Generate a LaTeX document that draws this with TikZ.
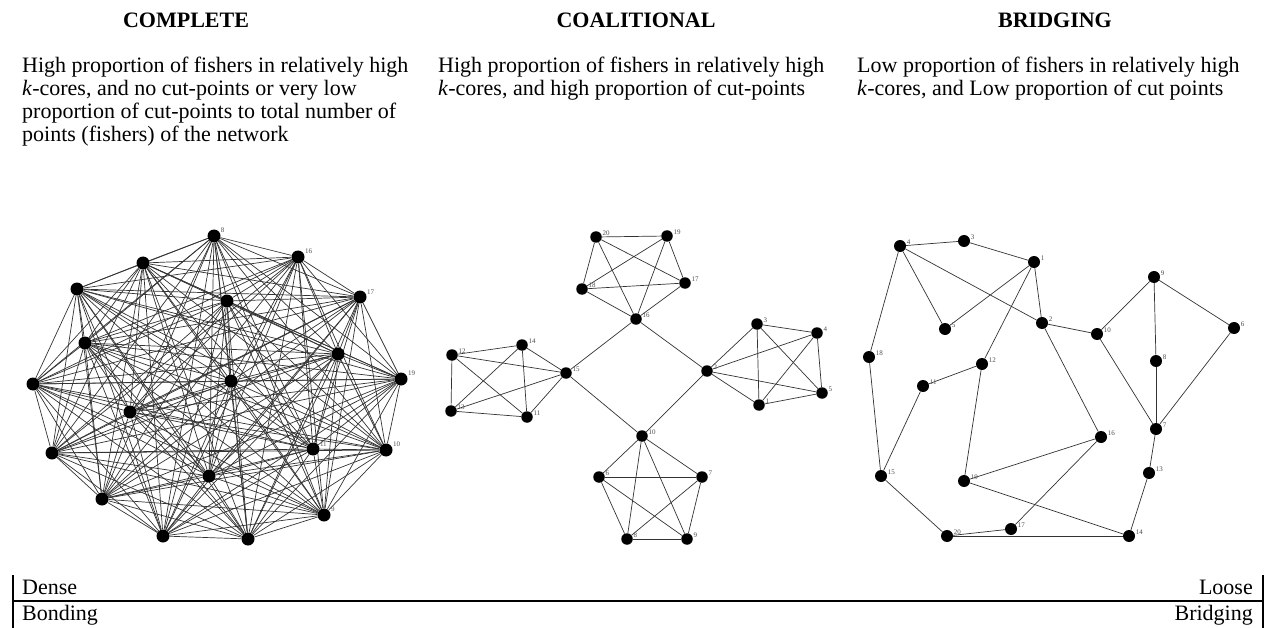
\documentclass[tikz,border=0pt]{standalone}
\usepackage{fontspec}
\setmainfont{Liberation Serif}
\usetikzlibrary{backgrounds}
\begin{document}
\begin{tikzpicture}[x=1pt,y=-1pt,
  cn/.style={circle,fill=black,inner sep=0pt,minimum size=13pt},
  kn/.style={circle,fill=black,inner sep=0pt,minimum size=11.5pt},
  bn/.style={circle,fill=black,inner sep=0pt,minimum size=12pt},
  lb/.style={font=\fontsize{7}{8}\selectfont,text=black!70,inner sep=0.5pt},
  cedge/.style={draw=black!80,line width=0.7pt},
  kedge/.style={draw=black!80,line width=0.7pt},
  title/.style={font=\fontsize{22}{24}\selectfont\bfseries,anchor=base},
  body/.style={font=\fontsize{22}{24}\selectfont,anchor=base west,inner sep=0pt},
  bar/.style={line width=2.6pt},
  hbar/.style={line width=2pt}]
\useasboundingbox (0,0) rectangle (1268,628);

% titles
\node[title] (t1) at (186,28) {COMPLETE};
\node[title] (t2) at (636,28) {COALITIONAL};
\node[title] (t3) at (1055,28) {BRIDGING};

% descriptions
\node[body] (d11) at (22,73) {High proportion of fishers in relatively high};
\node[body] (d12) at (22,96) {\textit{k}-cores, and no cut-points or very low};
\node[body] (d13) at (22,119) {proportion of cut-points to total number of};
\node[body] (d14) at (22,142) {points (fishers) of the network};
\node[body] (d21) at (438,73) {High proportion of fishers in relatively high};
\node[body] (d22) at (438,96) {\textit{k}-cores, and high proportion of cut-points};
\node[body] (d31) at (857,73) {Low proportion of fishers in relatively high};
\node[body] (d32) at (857,96) {\textit{k}-cores, and Low proportion of cut points};

% ---------- complete network ----------
\node[cn,label={[lb]20:8}] (c1) at (214,236) {};
\node[cn,label={[lb]20:16}] (c2) at (298,257) {};
\node[cn] (c3) at (143,263) {};
\node[cn,label={[lb]20:17}] (c4) at (360,297) {};
\node[cn] (c5) at (77,289) {};
\node[cn] (c6) at (227,301) {};
\node[cn] (c7) at (85,343) {};
\node[cn] (c8) at (338,354) {};
\node[cn,label={[lb]20:19}] (c9) at (401,379) {};
\node[cn] (c10) at (33,384) {};
\node[cn] (c11) at (231,381) {};
\node[cn] (c12) at (130,412) {};
\node[cn,label={[lb]20:10}] (c13) at (386,450) {};
\node[cn,label={[lb]20:11}] (c14) at (313,449) {};
\node[cn] (c15) at (52,453) {};
\node[cn] (c16) at (209,476) {};
\node[cn] (c17) at (102,499) {};
\node[cn,label={[lb]20:9}] (c18) at (324,515) {};
\node[cn] (c19) at (163,536) {};
\node[cn] (c20) at (248,539) {};
\begin{pgfonlayer}{background}
\foreach \i in {1,...,19}{
  \foreach \j in {2,...,20}{
    \ifnum\j>\i \draw[cedge] (c\i) -- (c\j); \fi
  }
}
\end{pgfonlayer}

% ---------- coalitional network ----------
\node[kn,label={[lb]10:20}] (k20) at (596,237) {};
\node[kn,label={[lb]10:19}] (k19) at (667,236) {};
\node[kn,label={[lb]10:17}] (k17) at (685,283) {};
\node[kn,label={[lb]10:18}] (k18) at (582,289) {};
\node[kn,label={[lb]10:16}] (k16) at (636,319) {};
\node[kn,label={[lb]10:3}] (k3) at (757,324) {};
\node[kn,label={[lb]10:4}] (k4) at (817,333) {};
\node[kn,label={[lb]10:2}] (k2) at (707,371) {};
\node[kn,label={[lb]10:5}] (k5) at (822,393) {};
\node[kn,label={[lb]10:1}] (k1) at (759,405) {};
\node[kn,label={[lb]10:12}] (k12) at (452,355) {};
\node[kn,label={[lb]10:14}] (k14) at (522,345) {};
\node[kn,label={[lb]10:15}] (k15) at (566,373) {};
\node[kn,label={[lb]10:13}] (k13) at (451,411) {};
\node[kn,label={[lb]10:11}] (k11) at (527,417) {};
\node[kn,label={[lb]10:10}] (k10) at (642,436) {};
\node[kn,label={[lb]10:6}] (k6) at (599,477) {};
\node[kn,label={[lb]10:7}] (k7) at (702,477) {};
\node[kn,label={[lb]10:8}] (k8) at (627,539) {};
\node[kn,label={[lb]10:9}] (k9) at (687,539) {};
\begin{pgfonlayer}{background}
\foreach \g in {{20,19,17,18,16},{3,4,2,5,1},{12,14,15,13,11},{10,6,7,8,9}}{
  \foreach [count=\ii] \a in \g {
    \foreach [count=\jj] \b in \g {
      \ifnum\jj>\ii \draw[kedge] (k\a) -- (k\b); \fi
    }
  }
}
\draw[kedge] (k16) -- (k15);
\draw[kedge] (k16) -- (k2);
\draw[kedge] (k15) -- (k10);
\draw[kedge] (k2) -- (k10);
\end{pgfonlayer}

% ---------- bridging network ----------
\node[bn,label={[lb]10:4}] (b4) at (900,246) {};
\node[bn,label={[lb]10:3}] (b3) at (964,241) {};
\node[bn,label={[lb]10:1}] (b1) at (1034,262) {};
\node[bn,label={[lb]10:5}] (b5) at (945,329) {};
\node[bn,label={[lb]10:2}] (b2) at (1042,323) {};
\node[bn,label={[lb]10:18}] (b18) at (869,357) {};
\node[bn,label={[lb]10:12}] (b12) at (982,364) {};
\node[bn,label={[lb]10:11}] (b11) at (923,386) {};
\node[bn,label={[lb]10:9}] (b9) at (1154,277) {};
\node[bn,label={[lb]10:10}] (b10) at (1097,334) {};
\node[bn,label={[lb]10:6}] (b6) at (1234,328) {};
\node[bn,label={[lb]10:8}] (b8) at (1156,361) {};
\node[bn,label={[lb]10:15}] (b15) at (881,476) {};
\node[bn,label={[lb]10:19}] (b19) at (964,481) {};
\node[bn,label={[lb]10:20}] (b20) at (947,536) {};
\node[bn,label={[lb]10:17}] (b17) at (1011,529) {};
\node[bn,label={[lb]10:16}] (b16) at (1101,437) {};
\node[bn,label={[lb]10:7}] (b7) at (1156,429) {};
\node[bn,label={[lb]10:13}] (b13) at (1149,473) {};
\node[bn,label={[lb]10:14}] (b14) at (1129,536) {};
\begin{pgfonlayer}{background}
\foreach \a/\b in {4/3,3/1,4/5,4/2,4/18,1/5,1/12,1/2,2/10,2/16,10/9,10/7,9/8,9/6,8/7,6/7,7/13,13/14,18/15,15/11,11/12,12/19,19/16,19/14,16/17,15/20,20/17,20/14}
  \draw[kedge] (b\a) -- (b\b);
\end{pgfonlayer}

% ---------- bottom scale ----------
\coordinate (bl1) at (13,575);
\coordinate (bl2) at (13,628);
\coordinate (br1) at (1263,575);
\coordinate (br2) at (1263,628);
\coordinate (hl) at (13,601);
\coordinate (hr) at (1263,601);
\draw[bar] (bl1) -- (bl2);
\draw[bar] (br1) -- (br2);
\draw[hbar] (hl) -- (hr);
\node[body] (dense) at (22,594) {Dense};
\node[body] (bond) at (22,620) {Bonding};
\node[body,anchor=base east] (loose) at (1253,594) {Loose};
\node[body,anchor=base east] (bridg) at (1253,620) {Bridging};
\end{tikzpicture}
\end{document}
